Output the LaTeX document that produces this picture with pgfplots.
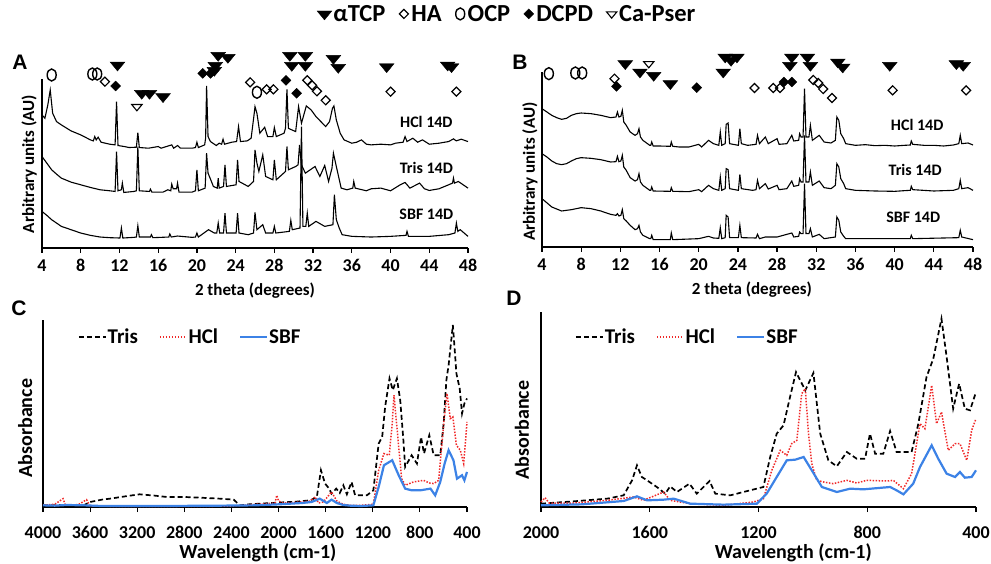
\documentclass[border=0pt]{standalone}
\usepackage{fontspec}
\setmainfont{Carlito}
\newfontfamily\panelfont{Liberation Sans}
\usepackage{pgfplots}
\pgfplotsset{compat=1.18}

\definecolor{hclred}{RGB}{240,40,40}
\definecolor{sbfblue}{RGB}{60,130,230}
\newcommand\lbl{\fontsize{18}{20}\selectfont\bfseries}
\newcommand\gap{\hspace*{11pt}}

\pgfplotsset{
  panel/.style={
    scale only axis, clip=false,
    axis x line*=bottom, axis y line*=left,
    axis line style={line width=1.4pt,-},
    ymin=0, ytick=\empty,
    tick align=outside, major tick length=5pt,
    tick style={line width=1.2pt,black},
    /pgf/number format/assume math mode=true,
    /pgf/number format/1000 sep={},
    every tick label/.append style={font=\lbl},
    label style={font=\lbl},
  },
  xrd/.style={panel, xmin=4, xmax=48, xtick={4,8,...,48},
    xticklabel style={yshift=-3pt},
    xlabel={2 theta (degrees)}, ylabel={Arbitrary units (AU)},
    xlabel style={font=\fontsize{17}{19}\selectfont\bfseries},
    ylabel style={font=\fontsize{17}{19}\selectfont\bfseries}},
  ftir/.style={panel, x dir=reverse, xmin=400,
    xticklabel style={yshift=-11pt},
    xlabel={Wavelength (cm-1)}, ylabel={Absorbance},
    xlabel style={font=\fontsize{20}{22}\selectfont\bfseries},
    ylabel style={font=\fontsize{20}{22}\selectfont\bfseries},
    legend columns=3,
    legend style={draw=none, fill=none, anchor=west,
      font=\fontsize{21}{23}\selectfont\bfseries,
      nodes={inner sep=1pt},
      /tikz/every even column/.append style={column sep=20pt}},
    legend image code/.code={\draw[##1] (0pt,0pt) -- (27pt,0pt);}},
  curve/.style={black, line width=1.1pt, forget plot},
  mk/.style={only marks, black,
    legend image code/.code={\draw[##1] plot coordinates {(6pt,0pt)};
      \path[draw=none,fill=none] (0pt,-5pt) rectangle (12pt,5pt);}},
  tcp/.style={mk, mark=triangle*, mark size=8.5pt, mark options={rotate=180, yscale=0.7}},
  ha/.style={mk, mark=square, mark size=3.2pt, mark options={rotate=45, line width=1.2pt}},
  ocp/.style={mk, mark=o, mark size=6pt, mark options={xscale=0.75, line width=1.4pt}},
  dcpd/.style={mk, mark=square*, mark size=3.5pt, mark options={rotate=45}},
  pser/.style={mk, mark=triangle, mark size=6pt, mark options={rotate=180, yscale=0.7, line width=1.1pt}},
  tris/.style={black, line width=1.7pt, dash pattern=on 5pt off 3pt},
  hcl/.style={hclred, line width=1.5pt, dash pattern=on 1.5pt off 1.5pt},
  sbf/.style={sbfblue, line width=2.2pt},
}

\begin{document}
\begin{tikzpicture}
\useasboundingbox (0,0) rectangle (991pt,563pt);

% ---------------- A ----------------
\begin{axis}[xrd, at={(42pt,315pt)}, anchor=south west, width=426pt, height=169pt, ymax=508,
  xlabel style={at={(axis description cs:0.5,-0.25)}, anchor=center},
  ylabel style={at={(axis description cs:-0.03,0.497)}, anchor=center},
  legend columns=5,
  legend style={draw=none, fill=none, at={(axis description cs:1.0915,1.385)}, anchor=center,
    font=\fontsize{24.5}{26}\selectfont\bfseries, nodes={inner sep=1.5pt}}]
\addplot[curve] coordinates {(4.0,400)(4.3,390)(4.6,430)(4.85,475)(5.1,405)(5.5,380)(6,370)(7,352)(8,340)(9,325)(9.3,322)(9.45,335)(9.6,325)(9.8,333)(10.1,318)(11,312)(11.55,310)(11.7,440)(11.85,308)(12.5,305)(13,302)(13.75,303)(13.9,347)(14.05,302)(15,300)(16,305)(16.3,300)(17.4,310)(17.6,300)(18,308)(18.3,300)(19.5,300)(19.85,302)(20,318)(20.15,302)(20.8,310)(20.9,330)(21.0,487)(21.15,335)(21.4,320)(22,308)(22.3,315)(22.55,312)(22.7,327)(22.85,312)(23.6,318)(24.1,320)(24.3,365)(24.5,320)(25.2,322)(25.6,330)(25.9,400)(26.0,425)(26.2,405)(26.5,345)(27.0,363)(27.3,335)(27.85,335)(28.0,362)(28.2,335)(29.0,345)(29.15,360)(29.3,477)(29.45,360)(29.8,355)(30.2,350)(30.5,425)(30.8,375)(31.3,427)(31.8,415)(32.3,395)(32.8,380)(33.3,365)(33.7,380)(34.0,420)(34.15,427)(34.4,385)(34.8,345)(35.2,325)(36,315)(36.5,318)(37,325)(37.5,312)(38,310)(39,312)(40,310)(40.5,315)(41.3,318)(41.5,335)(41.7,320)(42.3,330)(42.8,318)(43.3,325)(44,312)(45,315)(46,320)(46.5,328)(46.8,322)(47.3,327)(48,320)};
\addplot[curve] coordinates {(4.0,275)(4.5,255)(5,235)(5.5,222)(6,210)(7,198)(8,190)(9,182)(10,175)(11,172)(11.55,170)(11.7,290)(11.85,172)(12.2,175)(12.3,195)(12.45,167)(13.5,170)(13.75,172)(13.9,305)(14.05,172)(15.1,170)(15.2,177)(15.35,168)(16.5,168)(17,175)(17.3,172)(17.4,192)(17.55,178)(17.9,178)(18,195)(18.15,168)(19.5,168)(19.85,172)(20.0,235)(20.15,172)(20.85,180)(21.0,285)(21.15,225)(21.5,200)(21.7,185)(22.1,180)(22.2,210)(22.3,180)(22.75,185)(22.9,250)(23.05,185)(24.05,190)(24.2,265)(24.35,200)(25.3,185)(25.85,200)(26.0,295)(26.2,255)(26.4,230)(26.8,280)(27.1,215)(27.85,205)(28.0,265)(28.2,205)(29.15,230)(29.3,305)(29.45,235)(30.2,245)(30.45,250)(30.6,310)(30.8,250)(31.2,225)(31.7,235)(32.2,245)(32.7,215)(33.2,248)(33.6,200)(33.95,240)(34.1,285)(34.4,245)(34.9,180)(35.5,175)(36.1,180)(36.2,200)(36.35,180)(37.5,172)(38,178)(39,180)(40,172)(41,190)(41.5,197)(42,180)(43,195)(43.5,178)(44,173)(45,178)(46,190)(46.4,195)(46.5,210)(46.6,195)(47,200)(47.5,190)(48,180)};
\addplot[curve] coordinates {(4.0,110)(4.5,98)(5,85)(5.5,75)(6,65)(7,55)(8,45)(9,38)(10,33)(11,31)(12.05,30)(12.2,60)(12.35,30)(13.5,32)(13.75,33)(13.9,67)(14.05,33)(15.2,33)(15.3,40)(15.45,31)(17.1,33)(17.2,42)(17.35,33)(18,36)(19.5,32)(19.85,33)(20,45)(20.15,33)(21.2,55)(21.8,45)(22.05,45)(22.2,75)(22.35,45)(22.75,45)(22.9,105)(23.05,45)(24.05,45)(24.2,105)(24.35,45)(25.3,40)(25.85,45)(26.0,107)(26.2,55)(26.8,70)(27.1,45)(27.85,45)(28,65)(28.15,45)(29.55,50)(29.7,83)(29.85,55)(30.65,60)(30.8,365)(30.95,65)(31.25,65)(31.4,105)(31.55,65)(32.3,80)(33.2,65)(34.05,70)(34.2,160)(34.4,85)(34.7,60)(35,40)(36,35)(38,33)(40,35)(41.6,38)(41.7,50)(41.85,35)(44,35)(46,40)(46.65,45)(46.8,75)(46.95,50)(47.2,55)(48,35)};
\addplot[tcp] coordinates {(11.8,550)(14.3,465)(15.1,465)(16.5,455)(21.8,534)(21.9,549)(22.2,579)(23.2,573)(29.6,579)(31.2,579)(29.8,549)(31.2,549)(34.1,570)(34.6,543)(39.6,545)(45.9,550)(46.3,545)};
\addlegendentry{αTCP\gap}
\addplot[ha] coordinates {(10.5,500)(25.5,498)(27.2,477)(27.9,477)(31.4,504)(31.9,489)(32.4,471)(33.3,444)(40.0,470)(46.8,470)};
\addlegendentry{HA\gap}
\addplot[ocp] coordinates {(5.0,520)(9.2,523)(9.7,523)(26.2,468)};
\addlegendentry{OCP\gap}
\addplot[dcpd] coordinates {(11.6,487)(20.6,525)(21.4,525)(29.2,504)(30.3,465)};
\addlegendentry{DCPD\gap}
\addplot[pser] coordinates {(13.8,425)};
\addlegendentry{Ca-Pser}
\node[font=\fontsize{16}{18}\selectfont\bfseries] at (axis cs:43.7,378) {HCl 14D};
\node[font=\fontsize{16}{18}\selectfont\bfseries] at (axis cs:43.7,240) {Tris 14D};
\node[font=\fontsize{16}{18}\selectfont\bfseries] at (axis cs:43.7,100) {SBF 14D};
\end{axis}

% ---------------- B ----------------
\begin{axis}[xrd, at={(542pt,316pt)}, anchor=south west, width=431pt, height=175pt, ymax=525,
  xlabel style={at={(axis description cs:0.487,-0.246)}, anchor=center},
  ylabel style={at={(axis description cs:-0.028,0.43)}, anchor=center}]
\addplot[curve] coordinates {(4,415)(4.5,405)(5,395)(5.5,388)(6,383)(6.5,386)(7,395)(7.5,400)(8,402)(9,400)(10,395)(11,388)(11.55,390)(11.7,405)(11.85,390)(12.05,392)(12.2,410)(12.35,375)(12.6,365)(13,345)(13.5,335)(13.75,340)(13.9,355)(14.05,330)(14.3,320)(15,305)(15.1,305)(15.2,315)(15.35,303)(16,303)(17.1,302)(17.2,315)(17.35,302)(18,300)(19,300)(20,308)(20.3,300)(21,320)(21.5,310)(22.05,305)(22.2,345)(22.35,305)(22.7,310)(22.8,368)(23,372)(23.15,310)(24.05,305)(24.2,355)(24.35,310)(25,305)(25.85,308)(26,335)(26.2,310)(26.8,330)(27.1,310)(28,325)(28.2,308)(29,310)(29.5,335)(29.7,318)(30.2,320)(30.3,340)(30.45,330)(30.65,330)(30.8,475)(30.95,330)(31.25,330)(31.4,365)(31.6,320)(32.3,335)(32.8,315)(33.5,312)(33.95,320)(34.1,390)(34.3,380)(34.5,340)(34.8,325)(35,310)(36,305)(37,307)(38,304)(39,305)(40,303)(41,305)(41.6,306)(41.7,318)(41.85,308)(43,305)(44,305)(45,303)(46,306)(46.55,310)(46.7,335)(46.85,310)(47.5,312)(48,306)};
\addplot[curve] coordinates {(4,280)(4.5,270)(5,258)(5.5,250)(6,247)(6.5,250)(7,258)(7.5,265)(8,268)(9,266)(10,262)(11,255)(11.55,256)(11.7,272)(11.85,256)(12.05,258)(12.2,275)(12.35,240)(12.6,230)(13,208)(13.5,198)(13.75,202)(13.9,220)(14.05,195)(14.3,185)(15,170)(15.1,170)(15.2,180)(15.35,168)(17.1,167)(17.2,178)(17.35,167)(19,166)(20,172)(20.3,166)(21,185)(21.5,175)(22.05,170)(22.2,210)(22.35,170)(22.7,175)(22.8,235)(23,232)(23.15,175)(24.05,170)(24.2,218)(24.35,175)(25.5,170)(25.85,172)(26,200)(26.2,175)(26.8,190)(27.1,174)(28,185)(28.2,172)(29,175)(29.5,198)(29.7,182)(30.2,185)(30.3,205)(30.45,195)(30.65,195)(30.8,335)(30.95,195)(31.25,195)(31.4,225)(31.6,185)(32.3,198)(32.8,178)(33.5,175)(33.95,185)(34.1,250)(34.3,240)(34.5,205)(34.8,190)(35,175)(36,170)(38,168)(40,167)(41,169)(41.6,170)(41.7,182)(41.85,172)(44,168)(46,170)(46.55,175)(46.7,200)(46.85,175)(47.5,178)(48,170)};
\addplot[curve] coordinates {(4,145)(5,120)(6,108)(7,112)(8,118)(9,115)(10,108)(11,98)(11.55,95)(11.7,100)(11.85,93)(12.05,95)(12.2,112)(12.35,85)(12.6,78)(13,65)(13.5,52)(13.75,55)(13.9,65)(14.05,45)(14.3,35)(15,25)(15.1,25)(15.2,35)(15.35,22)(17.1,22)(17.2,42)(17.35,22)(20,25)(21,32)(21.5,27)(22.05,26)(22.2,58)(22.35,25)(22.7,28)(22.8,95)(23,90)(23.15,28)(24.05,28)(24.2,65)(24.35,28)(25.85,27)(26,38)(26.2,25)(26.8,30)(28,30)(29.5,42)(29.7,30)(30.2,32)(30.3,45)(30.45,40)(30.65,40)(30.8,190)(30.95,40)(31.25,40)(31.4,55)(31.6,30)(32.3,38)(32.8,25)(33.95,30)(34.1,90)(34.3,80)(34.5,45)(34.8,32)(35,25)(41.6,25)(41.7,35)(41.85,25)(46.55,28)(46.7,50)(46.85,30)(48,22)};
\addplot[tcp, forget plot] coordinates {(12.5,550)(14.0,525)(15.4,515)(17.1,490)(22.7,570)(23.9,570)(23.3,560)(22.5,525)(29.5,570)(31.1,570)(29.3,545)(31.4,545)(34.2,555)(34.7,540)(39.5,545)(46.3,550)(47.0,545)};
\addplot[ha, forget plot] coordinates {(11.4,505)(25.7,477)(27.6,477)(28.3,477)(31.7,501)(32.2,492)(32.7,474)(33.6,447)(39.8,470)(47.3,470)};
\addplot[ocp, forget plot] coordinates {(4.7,520)(7.4,522)(8.1,522)};
\addplot[dcpd, forget plot] coordinates {(11.6,482)(19.8,478)(28.7,495)(29.5,495)};
\addplot[pser, forget plot] coordinates {(14.9,550)};
\node[font=\fontsize{16}{18}\selectfont\bfseries] at (axis cs:42.3,365) {HCl 14D};
\node[font=\fontsize{16}{18}\selectfont\bfseries] at (axis cs:42.1,230) {Tris 14D};
\node[font=\fontsize{16}{18}\selectfont\bfseries] at (axis cs:41.9,90) {SBF 14D};
\end{axis}

% ---------------- C ----------------
\begin{axis}[ftir, at={(43pt,56pt)}, anchor=south west, width=424pt, height=187pt,
  xmax=4000, ymax=560, xtick={400,800,...,4000},
  xlabel style={at={(axis description cs:0.507,-0.246)}, anchor=center},
  ylabel style={at={(axis description cs:-0.042,0.422)}, anchor=center},
  legend style={at={(axis description cs:0.075,0.909)}}]
\addplot[tris] coordinates {(4000,5)(3800,6)(3650,6)(3600,15)(3500,22)(3430,25)(3300,32)(3180,38)(3050,34)(2950,30)(2800,30)(2670,28)(2500,25)(2380,22)(2330,5)(2250,8)(2160,10)(2050,12)(1960,14)(1850,16)(1730,20)(1675,30)(1640,110)(1605,70)(1570,55)(1550,40)(1510,55)(1480,42)(1450,65)(1420,38)(1380,75)(1350,35)(1300,35)(1250,35)(1195,50)(1150,190)(1120,210)(1095,300)(1058,385)(1030,350)(995,385)(967,320)(940,200)(925,120)(870,155)(825,130)(790,210)(765,160)(720,215)(683,155)(627,155)(598,250)(575,380)(556,425)(520,545)(500,450)(490,400)(462,355)(442,280)(422,310)(400,325)};
\addlegendentry{Tris}
\addplot[hcl] coordinates {(4000,6)(3900,8)(3830,25)(3810,6)(3700,7)(3630,22)(3600,3)(3400,2)(3000,2)(2600,2)(2400,3)(2300,5)(2200,8)(2100,10)(2030,12)(2015,35)(2000,18)(1960,12)(1850,14)(1730,18)(1690,30)(1660,12)(1620,15)(1550,45)(1505,18)(1450,8)(1390,5)(1300,5)(1195,8)(1150,110)(1105,160)(1060,155)(1035,250)(1020,335)(990,220)(955,85)(925,65)(855,75)(800,78)(770,80)(720,72)(683,70)(640,80)(598,250)(570,340)(542,265)(520,270)(490,185)(457,170)(428,130)(400,255)};
\addlegendentry{HCl}
\addplot[sbf] coordinates {(4000,5)(3900,4)(3800,6)(3650,5)(3500,3)(3000,3)(2500,4)(2200,5)(2000,8)(1900,10)(1800,12)(1720,15)(1650,25)(1590,12)(1550,22)(1505,12)(1450,6)(1390,4)(1300,3)(1195,5)(1150,60)(1105,125)(1035,140)(980,95)(925,55)(870,50)(795,50)(710,55)(670,35)(627,75)(590,130)(556,170)(515,140)(485,85)(442,95)(422,80)(400,105)};
\addlegendentry{SBF}
\end{axis}

% ---------------- D ----------------
\begin{axis}[ftir, at={(541pt,56pt)}, anchor=south west, width=435pt, height=195pt,
  xmax=2000, ymax=585, xtick={400,800,...,2000},
  xlabel style={at={(axis description cs:0.58,-0.236)}, anchor=center},
  ylabel style={at={(axis description cs:-0.044,0.395)}, anchor=center},
  legend style={at={(axis description cs:0.071,0.872)}}]
\addplot[tris] coordinates {(2000,10)(1880,17)(1757,25)(1696,35)(1665,80)(1647,125)(1629,90)(1610,80)(1574,60)(1543,40)(1525,62)(1500,45)(1454,70)(1427,40)(1380,78)(1359,40)(1304,35)(1231,50)(1182,60)(1157,150)(1133,220)(1108,245)(1084,330)(1062,405)(1028,350)(998,402)(973,220)(943,140)(912,122)(875,165)(839,145)(808,145)(790,220)(771,160)(741,160)(716,228)(692,165)(637,165)(612,250)(582,390)(557,445)(527,565)(508,450)(484,295)(462,370)(441,295)(422,290)(400,345)};
\addlegendentry{Tris}
\addplot[hcl] coordinates {(2000,15)(1985,28)(1970,12)(1880,12)(1757,20)(1660,30)(1623,20)(1549,45)(1525,20)(1451,10)(1329,5)(1218,15)(1182,25)(1151,110)(1120,170)(1096,155)(1078,190)(1059,200)(1041,340)(1028,355)(1016,220)(1004,130)(986,80)(961,75)(925,70)(875,80)(839,72)(802,80)(728,78)(704,80)(667,55)(637,100)(606,250)(588,235)(563,365)(545,250)(527,285)(502,170)(477,190)(459,190)(434,140)(416,230)(400,265)};
\addlegendentry{HCl}
\addplot[sbf] coordinates {(2000,5)(1850,8)(1696,18)(1647,32)(1610,20)(1549,22)(1512,25)(1451,10)(1329,7)(1206,10)(1170,40)(1133,90)(1096,140)(1065,142)(1034,150)(1004,110)(967,60)(912,45)(863,55)(814,53)(716,60)(692,50)(667,38)(631,70)(606,120)(563,185)(539,145)(508,100)(477,90)(459,105)(441,88)(416,90)(400,110)};
\addlegendentry{SBF}
\end{axis}

\node[font=\panelfont\fontsize{21}{23}\selectfont\bfseries] at (20pt,501pt) {A};
\node[font=\panelfont\fontsize{21}{23}\selectfont\bfseries] at (520pt,501pt) {B};
\node[font=\panelfont\fontsize{21}{23}\selectfont\bfseries] at (19pt,255pt) {C};
\node[font=\panelfont\fontsize{21}{23}\selectfont\bfseries] at (514pt,265pt) {D};
\end{tikzpicture}
\end{document}
